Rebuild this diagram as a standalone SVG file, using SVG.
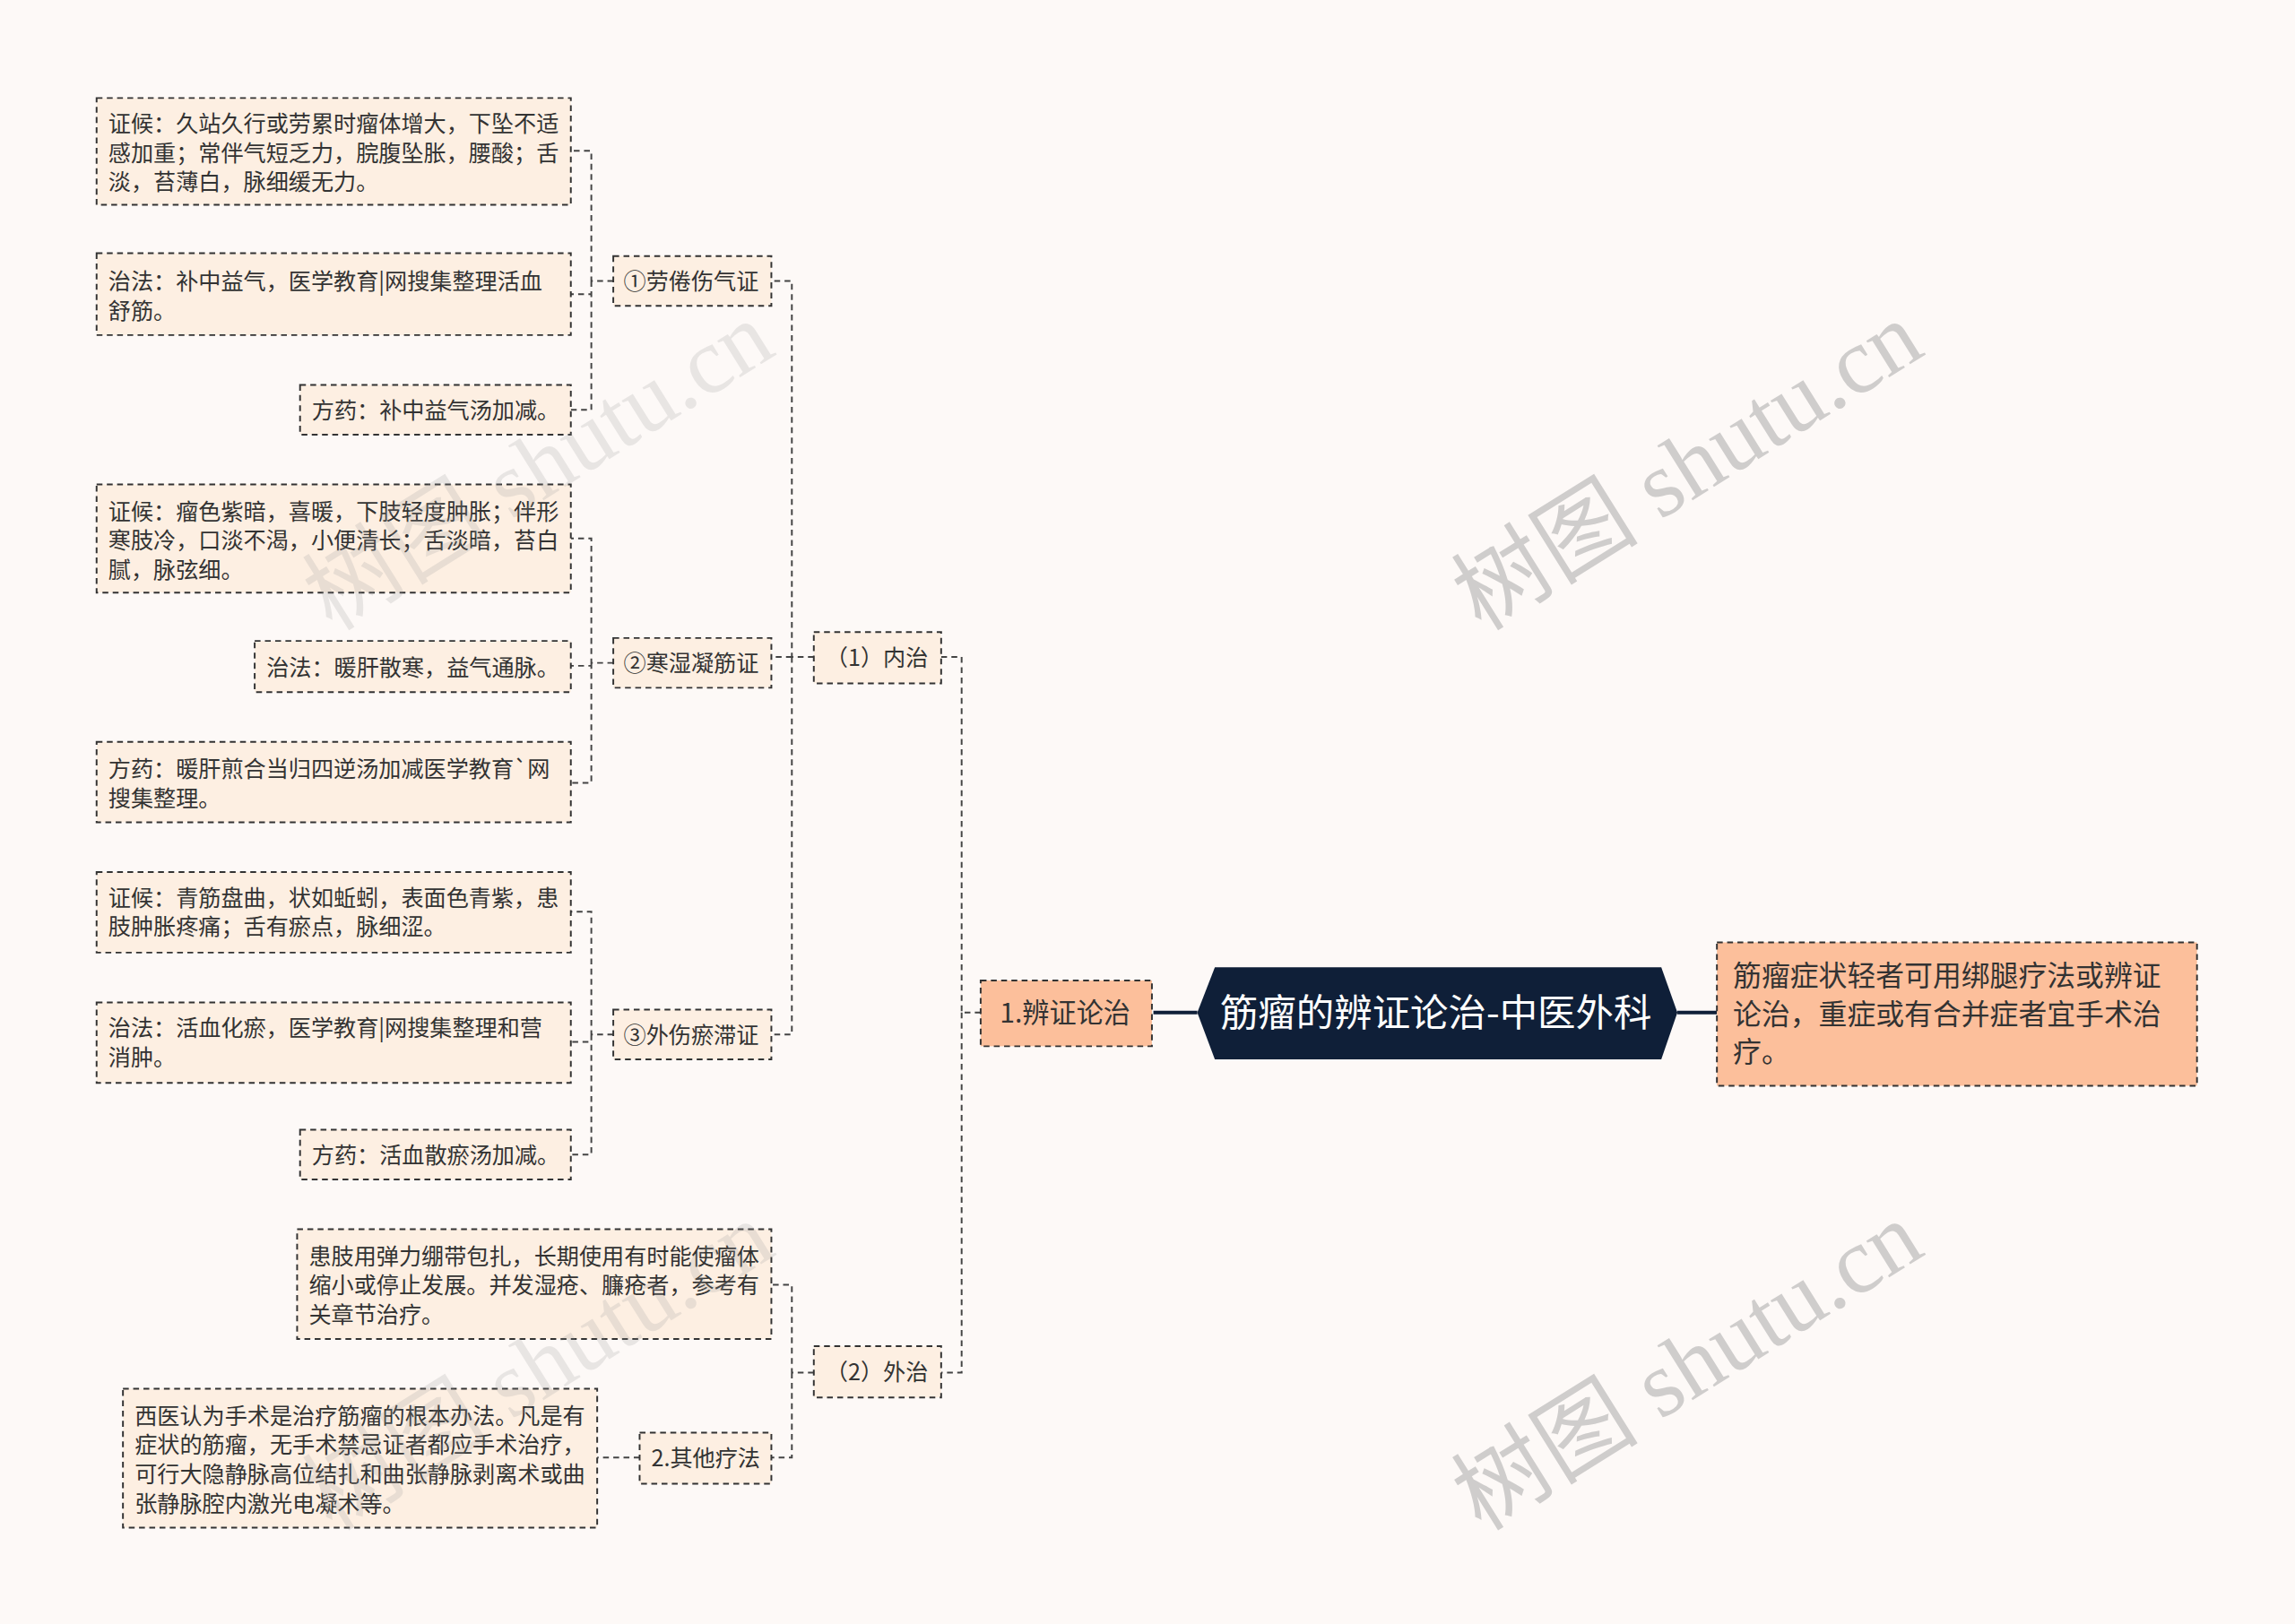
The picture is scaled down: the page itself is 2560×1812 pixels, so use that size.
<svg xmlns="http://www.w3.org/2000/svg" width="2560" height="1812" viewBox="0 0 2560 1812">
<style>
.b{fill:#fdefe2;stroke:#333;stroke-width:1.2;stroke-dasharray:4 3}
.o{fill:#fcbf9b;stroke:#333;stroke-width:1.2;stroke-dasharray:4 3}
.t{font-family:"Noto Sans CJK SC","Noto Sans",sans-serif;font-size:15.4px;fill:#333}
.c{fill:none;stroke:#444;stroke-width:1.2;stroke-dasharray:4 3}
.w{font-family:"Liberation Serif","Noto Sans CJK SC",serif;font-size:64px;fill:#999;opacity:0.45}
</style>
<rect width="2560" height="1812" fill="#fdf9f7"/>
<g transform="scale(1.6327)">
<g id="connectors">
<path class="c" d="M670,692 H657 V449 H643 M657,692 V938 H643"/>
<path class="c" d="M556,449 H541 V192 H527 M541,449 H527 M541,449 V707 H527"/>
<path class="c" d="M419,192 H404 V103 H390 M404,192 V201 H390 M404,192 V280 H390"/>
<path class="c" d="M419,453 H404 V368 H390 M404,453 V455 H390 M404,453 V535 H390"/>
<path class="c" d="M419,707 H404 V623 H390 M404,707 V712 H390 M404,707 V789 H390"/>
<path class="c" d="M556,938 H541 V878 H527 M541,938 V996 H527"/>
<path class="c" d="M437,996 H408"/>
<path d="M788,692 H818 M1146,692 H1173" stroke="#0f1f38" stroke-width="2.5"/>
</g>
<g id="root"><polygon points="830,661 1135,661 1146,692 1135,724 830,724 818,692" fill="#0f1f38"/>
<text x="981" y="701" text-anchor="middle" class="t" style="font-size:26px;fill:#fff">筋瘤的辨证论治-中医外科</text></g>
<g id="summary"><rect class="o" x="1173" y="644" width="328" height="98"/>
<text class="t" style="font-size:19.5px"><tspan x="1184" y="674">筋瘤症状轻者可用绑腿疗法或辨证</tspan><tspan x="1184" y="700">论治，重症或有合并症者宜手术治</tspan><tspan x="1184" y="726">疗。</tspan></text></g>
<g id="n1"><rect class="o" x="670" y="670" width="117" height="45"/><text class="t" x="683" y="699" style="font-size:18.5px">1.辨证论治</text></g>
<g id="neizhi"><rect class="b" x="556" y="432" width="87" height="35"/><text class="t" x="564" y="455">（1）内治</text></g>
<g id="waizhi"><rect class="b" x="556" y="920" width="87" height="35"/><text class="t" x="564" y="943">（2）外治</text></g>
<g id="s1"><rect class="b" x="419" y="175" width="108" height="34"/><text class="t" x="426" y="198">①劳倦伤气证</text></g>
<g id="s2"><rect class="b" x="419" y="436" width="108" height="34"/><text class="t" x="426" y="459">②寒湿凝筋证</text></g>
<g id="s3"><rect class="b" x="419" y="690" width="108" height="34"/><text class="t" x="426" y="713">③外伤瘀滞证</text></g>
<g id="s1a"><rect class="b" x="66" y="67" width="324" height="73"/><text class="t"><tspan x="74" y="90">证候：久站久行或劳累时瘤体增大，下坠不适</tspan><tspan x="74" y="110">感加重；常伴气短乏力，脘腹坠胀，腰酸；舌</tspan><tspan x="74" y="130">淡，苔薄白，脉细缓无力。</tspan></text></g>
<g id="s1b"><rect class="b" x="66" y="173" width="324" height="56"/><text class="t"><tspan x="74" y="198">治法：补中益气，医学教育|网搜集整理活血</tspan><tspan x="74" y="218">舒筋。</tspan></text></g>
<g id="s1c"><rect class="b" x="205" y="263" width="185" height="34"/><text class="t" x="213" y="286">方药：补中益气汤加减。</text></g>
<g id="s2a"><rect class="b" x="66" y="331" width="324" height="74"/><text class="t"><tspan x="74" y="355">证候：瘤色紫暗，喜暖，下肢轻度肿胀；伴形</tspan><tspan x="74" y="375">寒肢冷，口淡不渴，小便清长；舌淡暗，苔白</tspan><tspan x="74" y="395">腻，脉弦细。</tspan></text></g>
<g id="s2b"><rect class="b" x="174" y="438" width="216" height="35"/><text class="t" x="182" y="462">治法：暖肝散寒，益气通脉。</text></g>
<g id="s2c"><rect class="b" x="66" y="507" width="324" height="55"/><text class="t"><tspan x="74" y="531">方药：暖肝煎合当归四逆汤加减医学教育`网</tspan><tspan x="74" y="551">搜集整理。</tspan></text></g>
<g id="s3a"><rect class="b" x="66" y="596" width="324" height="55"/><text class="t"><tspan x="74" y="619">证候：青筋盘曲，状如蚯蚓，表面色青紫，患</tspan><tspan x="74" y="639">肢肿胀疼痛；舌有瘀点，脉细涩。</tspan></text></g>
<g id="s3b"><rect class="b" x="66" y="685" width="324" height="55"/><text class="t"><tspan x="74" y="708">治法：活血化瘀，医学教育|网搜集整理和营</tspan><tspan x="74" y="728">消肿。</tspan></text></g>
<g id="s3c"><rect class="b" x="205" y="772" width="185" height="34"/><text class="t" x="213" y="795">方药：活血散瘀汤加减。</text></g>
<g id="w1"><rect class="b" x="203" y="840" width="324" height="75"/><text class="t"><tspan x="211" y="864">患肢用弹力绷带包扎，长期使用有时能使瘤体</tspan><tspan x="211" y="884">缩小或停止发展。并发湿疮、臁疮者，参考有</tspan><tspan x="211" y="904">关章节治疗。</tspan></text></g>
<g id="w2"><rect class="b" x="437" y="979" width="90" height="35"/><text class="t" x="445" y="1002">2.其他疗法</text></g>
<g id="w2a"><rect class="b" x="84" y="949" width="324" height="95"/><text class="t"><tspan x="92" y="973">西医认为手术是治疗筋瘤的根本办法。凡是有</tspan><tspan x="92" y="993">症状的筋瘤，无手术禁忌证者都应手术治疗，</tspan><tspan x="92" y="1013">可行大隐静脉高位结扎和曲张静脉剥离术或曲</tspan><tspan x="92" y="1033">张静脉腔内激光电凝术等。</tspan></text></g>
<g id="watermarks">
<text class="w" transform="translate(1012,432) rotate(-32)">树图 shutu.cn</text>
<text class="w" transform="translate(1012,1047) rotate(-32)">树图 shutu.cn</text>
<text class="w" style="opacity:0.2" transform="translate(227,432) rotate(-32)">树图 shutu.cn</text>
<text class="w" style="opacity:0.2" transform="translate(227,1047) rotate(-32)">树图 shutu.cn</text>
</g>
</g>
</svg>
